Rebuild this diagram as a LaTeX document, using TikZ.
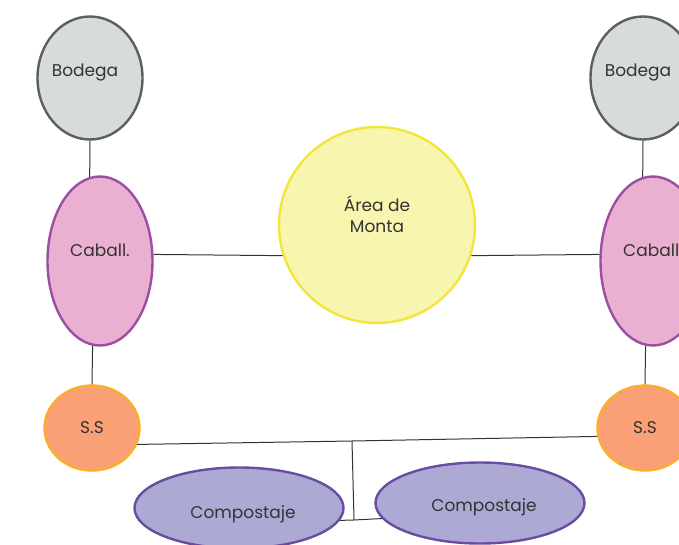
\documentclass[tikz,border=0pt]{standalone}
\usepackage{fontspec}
\setmainfont{Poppins}
\usepackage{xcolor}
\usepackage{tikz}
\usetikzlibrary{shapes.geometric,calc}

\definecolor{bodegafill}{HTML}{D7DBDC}
\definecolor{bodegaline}{HTML}{5B5F60}
\definecolor{caballfill}{HTML}{EAB0D1}
\definecolor{caballline}{HTML}{9A4FA2}
\definecolor{montafill}{HTML}{F8F5AF}
\definecolor{montaline}{HTML}{F2E63C}
\definecolor{ssfill}{HTML}{F9A077}
\definecolor{ssline}{HTML}{FBAE2E}
\definecolor{compfill}{HTML}{ACA9D4}
\definecolor{compline}{HTML}{6A4CA0}
\definecolor{txt}{HTML}{333333}

\begin{document}
\begin{tikzpicture}[x=1pt, y=-1pt,
    every label/.style={font=\fontsize{17}{21}\selectfont, text=txt, align=center},
    bodega/.style={ellipse, draw=bodegaline, fill=bodegafill, line width=2.4pt, minimum width=105pt, minimum height=123pt, inner sep=0pt},
    caball/.style={ellipse, draw=caballline, fill=caballfill, line width=2.4pt, minimum width=105pt, minimum height=169pt, inner sep=0pt},
    monta/.style={circle, draw=montaline, fill=montafill, line width=2.4pt, minimum size=196pt, inner sep=0pt},
    ss/.style={ellipse, draw=ssline, fill=ssfill, line width=2.4pt, minimum width=95pt, minimum height=85pt, inner sep=0pt},
    compost/.style={ellipse, draw=compline, fill=compfill, line width=2.4pt, minimum width=209pt, minimum height=81pt, inner sep=0pt},
    link/.style={draw=black!80, line width=1pt}
]
\useasboundingbox (0,0) rectangle (679,545);

% puntos de union
\coordinate (jct) at (352,441);
\coordinate (jbot) at (354,520);

% las dos naves, izquierda y derecha
\foreach \s/\x in {L/0, R/553} {
    \node[bodega, label={[xshift=-5pt, yshift=5pt]center:Bodega}] (bod\s) at (90+\x, 78) {};
    \node[caball, label={[yshift=11pt]center:Caball.}] (cab\s) at (100+\x, 261) {};
    \node[ss, label={center:S.S}] (ss\s) at (92+\x, 428) {};
    \draw[link] (bod\s.south) -- (cab\s.97);
    \draw[link] (cab\s.-95) -- (ss\s.north);
}

\node[monta, label={[yshift=11pt]center:Área de\\Monta}] (monta) at (377, 225) {};

\node[compost, label={[xshift=4pt, yshift=-6pt]center:Compostaje}] (compL) at (239, 508) {};
\node[compost, label={[xshift=4pt, yshift=-4pt]center:Compostaje}] (compR) at (480, 503) {};

\draw[link] (cabL.7) -- (monta.198);
\draw[link] (monta.-18) -- (cabR.173);
\draw[link] (ssL.-20) -- (jct) -- (ssR.190);
\draw[link] (jct) -- (jbot);
\draw[link] (compL.-7) -- (jbot) -- (compR.189);
\end{tikzpicture}
\end{document}
